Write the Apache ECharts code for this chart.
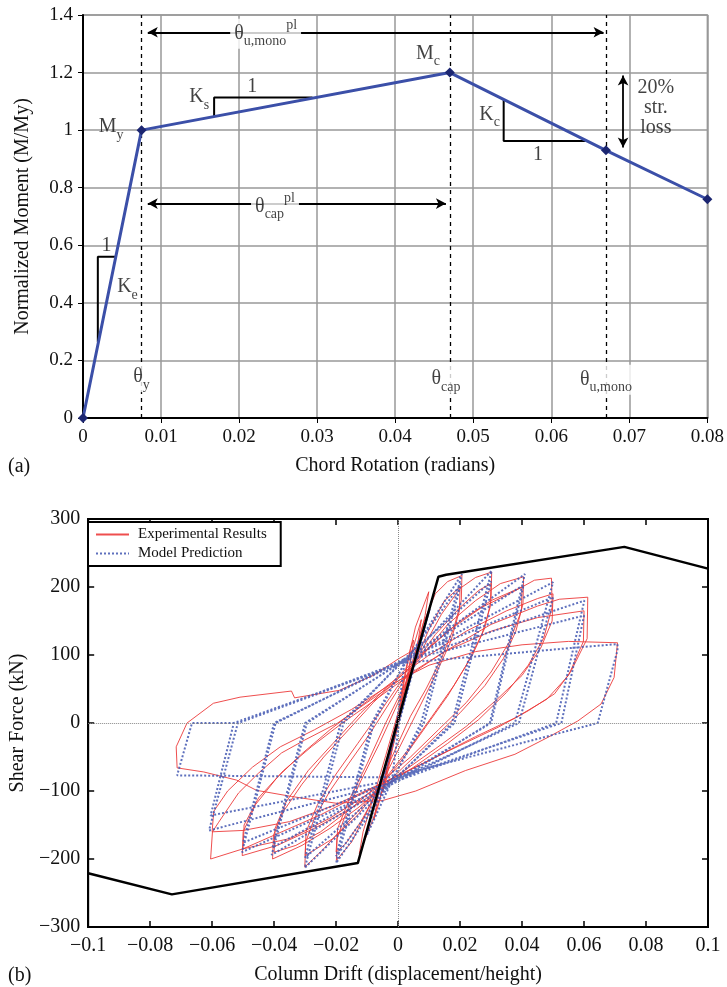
<!DOCTYPE html>
<html>
<head>
<meta charset="utf-8">
<script src="https://cdn.jsdelivr.net/npm/echarts@6/dist/echarts.min.js"></script>
<style>
  html, body { margin: 0; padding: 0; background: #fff; }
  #main { width: 727px; height: 987px; }
</style>
</head>
<body>
<div id="main"></div>
<script>
var F = 'Liberation Serif';

// ---- (a) backbone curve ----
var rotPts = [0, 0.0075, 0.047, 0.067, 0.08];
var momPts = [0, 1.0, 1.2, 0.93, 0.76];
var thetaMarks = [0.0075, 0.047, 0.067];          // theta_y, theta_cap, theta_u,mono
var keTri = [[0.0042, 0.56], [0.0019, 0.56], [0.0019, 0.264]];
var ksTri = [[0.0168, 1.047], [0.0168, 1.113], [0.0294, 1.113]];
var kcTri = [[0.0539, 1.107], [0.0539, 0.962], [0.0644, 0.962]];
var uMonoArrow = [[0.0083, 1.34], [0.0667, 1.34]];
var capArrow = [[0.0083, 0.745], [0.0465, 0.745]];
var lossArrow = [[0.0692, 1.19], [0.0692, 0.94]];

var noteTexts = ['M{s|y}', 'M{s|c}', 'K{s|e}', '1', 'K{s|s}', '1', 'K{s|c}', '1',
  '20%', 'str.', 'loss', 'θ{s|y}', 'θ{s|cap}', 'θ{s|u,mono}',
  'θ{s|u,mono}{p|pl}', 'θ{s|cap}{p|pl}'];
var notePos = [[0.0036, 1.011], [0.0442, 1.266], [0.0057, 0.455], [0.0030, 0.598],
  [0.0149, 1.115], [0.0217, 1.152], [0.0521, 1.055], [0.0583, 0.916],
  [0.0734, 1.148], [0.0734, 1.078], [0.0734, 1.007], [0.0075, 0.142],
  [0.0465, 0.136], [0.0670, 0.133], [0.0234, 1.335], [0.0246, 0.735]];

// ---- (b) hysteresis ----
var driftBB = [-0.1, -0.073, -0.013, 0.013, 0.0155, 0.073, 0.1];
var shearBB = [-221, -252, -206, 215, 218, 259, 227];

var expSmall = [[0,0],[0.002,62],[0.004,110],[0.005,122],[0.0035,75],[0.001,18],[-0.002,-42],[-0.004,-86],[-0.005,-102],[-0.0035,-64],[-0.001,-12],[0.002,48],[0.0045,105],[0.0075,152],[0.0064,118],[0.003,52],[0,-2],[-0.003,-57],[-0.006,-115],[-0.0078,-142],[-0.0063,-104],[-0.003,-46],[0,14],[0.0024,77],[0.0056,141],[0.0099,193],[0.0087,158],[0.006,104],[0.002,34],[-0.002,-36],[-0.005,-98],[-0.0082,-143],[-0.0125,-192],[-0.0113,-160],[-0.008,-110],[-0.004,-48],[0,15],[0.004,80],[0.008,145],[0.012,190]];
var exp02 = [[0.016,208],[0.0206,217],[0.0204,180],[0.018,140],[0.014,95],[0.009,50],[0.004,10],[0,-30],[-0.005,-80],[-0.01,-130],[-0.015,-175],[-0.0199,-202],[-0.0197,-170],[-0.017,-135],[-0.012,-85],[-0.006,-30],[0,30],[0.005,85],[0.01,138],[0.015,180],[0.020,200],[0.0198,165],[0.017,120],[0.012,70],[0.006,15],[0,-40],[-0.006,-95],[-0.012,-145],[-0.017,-178],[-0.020,-190],[-0.0195,-155],[-0.016,-115],[-0.01,-60],[-0.004,0],[0.002,55],[0.008,110],[0.014,160],[0.02,198],[0.025,214]];
var exp03 = [[0.0302,222],[0.0300,180],[0.028,140],[0.024,100],[0.018,55],[0.011,10],[0.004,-35],[-0.003,-75],[-0.01,-115],[-0.017,-150],[-0.024,-185],[-0.0301,-212],[-0.0298,-175],[-0.027,-140],[-0.022,-100],[-0.016,-60],[-0.009,-15],[-0.002,35],[0.005,85],[0.012,130],[0.02,170],[0.026,195],[0.030,205],[0.0297,170],[0.027,130],[0.022,85],[0.016,40],[0.009,-5],[0.002,-50],[-0.006,-95],[-0.013,-135],[-0.021,-170],[-0.030,-195],[-0.0297,-160],[-0.026,-120],[-0.02,-75],[-0.013,-30],[-0.006,15],[0,55],[0.008,100],[0.016,145],[0.025,180],[0.033,205]];
var exp04 = [[0.0405,215],[0.0403,175],[0.038,135],[0.034,95],[0.028,55],[0.02,15],[0.012,-20],[0.004,-55],[-0.004,-90],[-0.013,-125],[-0.022,-155],[-0.031,-180],[-0.0405,-200],[-0.0402,-165],[-0.037,-130],[-0.031,-90],[-0.024,-50],[-0.016,-10],[-0.008,30],[0,65],[0.01,110],[0.02,150],[0.03,180],[0.040,200],[0.0398,165],[0.036,120],[0.03,75],[0.022,30],[0.013,-10],[0.004,-50],[-0.005,-85],[-0.015,-125],[-0.025,-160],[-0.033,-180],[-0.040,-190],[-0.0397,-155],[-0.036,-115],[-0.029,-70],[-0.021,-30],[-0.012,15],[-0.003,55],[0.006,95],[0.016,135],[0.027,170],[0.038,195],[0.044,210]];
var exp05 = [[0.0495,213],[0.0497,170],[0.047,125],[0.042,85],[0.035,45],[0.026,5],[0.016,-30],[0.006,-62],[-0.004,-92],[-0.015,-125],[-0.027,-155],[-0.039,-180],[-0.0503,-195],[-0.0500,-160],[-0.046,-120],[-0.039,-80],[-0.031,-45],[-0.022,-10],[-0.012,25],[-0.002,60],[0.01,100],[0.022,135],[0.035,165],[0.045,183],[0.050,190],[0.0497,150],[0.046,110],[0.04,70],[0.032,35],[0.022,-5],[0.012,-38],[0.002,-70],[-0.01,-105],[-0.022,-140],[-0.035,-170],[-0.050,-185],[-0.0497,-150],[-0.045,-110],[-0.037,-70],[-0.028,-35],[-0.018,0],[-0.008,32],[0.002,65],[0.015,105],[0.03,145],[0.045,172],[0.052,182]];
var exp06 = [[0.0612,185],[0.061,124],[0.0559,77],[0.0505,43],[0.042,18],[0.0324,-6],[0.0163,-41],[0.0035,-70],[-0.01,-100],[-0.025,-135],[-0.04,-165],[-0.05,-185],[-0.0605,-200],[-0.0599,-160],[-0.0579,-146],[-0.0515,-103],[-0.0451,-74],[-0.0376,-44],[-0.0301,-25],[-0.0195,0],[-0.0088,34],[0.0008,64],[0.015,105],[0.03,135],[0.045,155],[0.060,165],[0.0598,120],[0.055,70],[0.048,35],[0.038,8],[0.025,-20],[0.01,-55],[-0.005,-88],[-0.02,-120],[-0.035,-145],[-0.05,-158],[-0.060,-160],[-0.0595,-130],[-0.055,-100],[-0.047,-65],[-0.038,-35],[-0.027,-10],[-0.015,20],[-0.003,55],[0.01,85],[0.025,105],[0.04,115],[0.055,120]];
var exp07 = [[0.0708,118],[0.0697,67],[0.0655,28],[0.058,3],[0.0484,-21],[0.0377,-46],[0.0217,-70],[0.0057,-100],[-0.005,-114],[-0.02,-118],[-0.0344,-108],[-0.0457,-99],[-0.0521,-84],[-0.0627,-72],[-0.0713,-66],[-0.0716,-35],[-0.0681,0],[-0.0596,29],[-0.051,38],[-0.0344,47],[-0.0334,37],[-0.019,48],[-0.008,70],[0.0,94],[0.006,110]];

var modSmall = [[0,0],[0.005,83],[0.0002,0],[-0.005,-84],[-0.0002,0],[0.005,83],[0.0102,168],[0.0003,0],[-0.002,-85],[-0.0101,-165],[-0.0004,0],[0.002,86]];
var mod02 = [[0.0206,219],[0.0074,0],[-0.002,-86],[-0.0200,-206],[-0.0078,0],[0.002,88],[0.0203,205],[0.0083,0],[-0.002,-84],[-0.0200,-196],[-0.0085,0],[0.002,87]];
var mod03 = [[0.0302,224],[0.0174,0],[-0.002,-88],[-0.0301,-213],[-0.0176,0],[0.001,90],[0.0300,208],[0.0182,0],[-0.002,-86],[-0.0300,-198],[-0.0185,0],[0.001,88]];
var mod04 = [[0.0409,219],[0.0296,0],[-0.002,-90],[-0.0408,-194],[-0.0294,0],[0.001,90],[0.0405,203],[0.030,0],[-0.002,-87],[-0.0405,-183],[-0.0300,0],[0.001,89]];
var mod05 = [[0.0500,207],[0.0377,0],[-0.002,-90],[-0.0504,-190],[-0.0395,0],[0.001,92],[0.0500,185],[0.0390,0],[-0.002,-86],[-0.0500,-176],[-0.0400,0],[0.001,90]];
var mod06 = [[0.0601,180],[0.0510,0],[-0.002,-88],[-0.0610,-158],[-0.0517,0],[0.001,90],[0.0600,158],[0.0527,0],[-0.002,-84],[-0.0605,-136],[-0.0530,0],[0.001,88]];
var mod07 = [[0.0600,112],[0.0708,116],[0.0708,107],[0.0644,0],[-0.002,-80],[-0.0713,-77],[-0.0665,0],[-0.0515,0],[0.001,88]];

var expAll = [].concat(expSmall, exp02, exp03, exp04, exp05, exp06, exp07);
var modAll = [].concat(modSmall, mod02, mod03, mod04, mod05, mod06, mod07);

function pairs(xs, ys) {
  return xs.map(function (x, i) { return [x, ys[i]]; });
}
function minus(s) { return s.replace('-', '\u2212'); }

var txt = { fontFamily: F, fontSize: 19, color: '#111' };
var nameTxt = { fontFamily: F, fontSize: 20, color: '#111' };

var notes = noteTexts.map(function (t, i) {
  var item = { value: notePos[i], label: { formatter: t } };
  if (t.charAt(0) === 'θ') {
    item.label.backgroundColor = '#fff';
    item.label.padding = [0, 4];
  }
  return item;
});

var chart = echarts.init(document.getElementById('main'));

var option = {
  animation: false,
  backgroundColor: '#fff',
  textStyle: { fontFamily: F },
  grid: [
    { left: 83, right: 19, top: 15, bottom: 569, show: true, borderColor: '#999', borderWidth: 1.5 },
    { left: 84, right: 19, top: 519, bottom: 60, show: true, borderColor: '#000', borderWidth: 2 }
  ],
  legend: {
    data: ['Experimental Results', 'Model Prediction'],
    orient: 'vertical',
    left: 88,
    top: 522,
    backgroundColor: '#fff',
    borderColor: '#000',
    borderWidth: 2,
    borderRadius: 0,
    padding: [5, 14, 5, 7],
    itemGap: 4,
    itemWidth: 33,
    itemHeight: 14,
    selectedMode: false,
    itemStyle: { opacity: 0 },
    textStyle: { fontFamily: F, fontSize: 15, color: '#111', padding: [0, 0, 0, 4] }
  },
  xAxis: [
    {
      gridIndex: 0, type: 'value', min: 0, max: 0.08, interval: 0.01,
      name: 'Chord Rotation (radians)', nameLocation: 'middle', nameGap: 38, nameTextStyle: nameTxt,
      axisLine: { lineStyle: { color: '#000', width: 2 } },
      axisTick: { length: 5, lineStyle: { color: '#000' } },
      axisLabel: Object.assign({ margin: 10, formatter: function (v) { return v === 0 ? '0' : v.toFixed(2); } }, txt),
      splitLine: { show: true, lineStyle: { color: '#999', width: 1.5 } }
    },
    {
      gridIndex: 1, type: 'value', min: -0.1, max: 0.1, interval: 0.02, position: 'bottom',
      name: 'Column Drift (displacement/height)', nameLocation: 'middle', nameGap: 38, nameTextStyle: nameTxt,
      axisLine: { onZero: false, lineStyle: { color: '#000', width: 2 } },
      axisTick: { inside: true, length: 6, lineStyle: { color: '#000', width: 1.5 } },
      axisLabel: Object.assign({ margin: 9, formatter: function (v) { return minus(String(+v.toFixed(2))); } }, txt, { fontSize: 20 }),
      splitLine: { show: false }
    },
    {
      gridIndex: 1, type: 'value', min: -0.1, max: 0.1, interval: 0.02, position: 'top',
      axisLine: { onZero: false, lineStyle: { color: '#000', width: 2 } },
      axisTick: { inside: true, length: 6, lineStyle: { color: '#000', width: 1.5 } },
      axisLabel: { show: false },
      splitLine: { show: false }
    }
  ],
  yAxis: [
    {
      gridIndex: 0, type: 'value', min: 0, max: 1.4, interval: 0.2,
      name: 'Normalized Moment (M/My)', nameLocation: 'middle', nameGap: 50, nameTextStyle: nameTxt,
      axisLine: { show: true, lineStyle: { color: '#000', width: 2 } },
      axisTick: { show: true, length: 5, lineStyle: { color: '#000' } },
      axisLabel: Object.assign({ margin: 10, formatter: function (v) { return String(+v.toFixed(1)); } }, txt),
      splitLine: { show: true, lineStyle: { color: '#999', width: 1.5 } }
    },
    {
      gridIndex: 1, type: 'value', min: -300, max: 300, interval: 100, position: 'left',
      name: 'Shear Force (kN)', nameLocation: 'middle', nameGap: 52, nameTextStyle: nameTxt,
      axisLine: { show: true, onZero: false, lineStyle: { color: '#000', width: 2 } },
      axisTick: { show: true, inside: true, length: 6, lineStyle: { color: '#000', width: 1.5 } },
      axisLabel: Object.assign({ margin: 8, formatter: function (v) { return minus(String(v)); } }, txt, { fontSize: 20 }),
      splitLine: { show: false }
    },
    {
      gridIndex: 1, type: 'value', min: -300, max: 300, interval: 100, position: 'right',
      axisLine: { show: true, onZero: false, lineStyle: { color: '#000', width: 2 } },
      axisTick: { show: true, inside: true, length: 6, lineStyle: { color: '#000', width: 1.5 } },
      axisLabel: { show: false },
      splitLine: { show: false }
    }
  ],
  graphic: [
    { type: 'text', left: 8, top: 457, style: { text: '(a)', font: '20px "Liberation Serif"', fill: '#111' } },
    { type: 'text', left: 8, top: 966, style: { text: '(b)', font: '20px "Liberation Serif"', fill: '#111' } }
  ],
  series: [
    // dashed theta lines
    {
      type: 'line', xAxisIndex: 0, yAxisIndex: 0, data: [[0, 0]], symbol: 'none',
      lineStyle: { opacity: 0 }, silent: true,
      markLine: {
        silent: true, symbol: 'none', label: { show: false },
        lineStyle: { color: '#000', type: [4, 4], width: 1.3 },
        data: thetaMarks.map(function (t) { return [{ coord: [t, 0] }, { coord: [t, 1.4] }]; })
      }
    },
    // arrows
    {
      type: 'line', xAxisIndex: 0, yAxisIndex: 0, data: [[0, 0]], symbol: 'none',
      lineStyle: { opacity: 0 }, silent: true,
      markLine: {
        silent: true, symbol: ['arrow', 'arrow'], symbolSize: [8, 10], label: { show: false },
        lineStyle: { color: '#000', type: 'solid', width: 1.8 },
        data: [
          [{ coord: uMonoArrow[0] }, { coord: uMonoArrow[1] }],
          [{ coord: capArrow[0] }, { coord: capArrow[1] }],
          [{ coord: lossArrow[0] }, { coord: lossArrow[1] }]
        ]
      }
    },
    { type: 'line', xAxisIndex: 0, yAxisIndex: 0, data: keTri, symbol: 'none', silent: true, lineStyle: { color: '#000', width: 2 } },
    { type: 'line', xAxisIndex: 0, yAxisIndex: 0, data: ksTri, symbol: 'none', silent: true, lineStyle: { color: '#000', width: 2 } },
    { type: 'line', xAxisIndex: 0, yAxisIndex: 0, data: kcTri, symbol: 'none', silent: true, lineStyle: { color: '#000', width: 2 } },
    {
      type: 'line', xAxisIndex: 0, yAxisIndex: 0, data: pairs(rotPts, momPts), z: 5,
      symbol: 'diamond', symbolSize: 10, silent: true,
      lineStyle: { color: '#3b4fa8', width: 3 },
      itemStyle: { color: '#1c2671' }
    },
    {
      type: 'scatter', xAxisIndex: 0, yAxisIndex: 0, data: notes, symbolSize: 0, z: 10, silent: true,
      label: {
        show: true, position: 'inside', color: '#111', fontFamily: F, fontSize: 20, lineHeight: 30,
        rich: {
          s: { fontFamily: F, fontSize: 14, lineHeight: 20, verticalAlign: 'bottom', color: '#111' },
          p: { fontFamily: F, fontSize: 14, lineHeight: 14, verticalAlign: 'top', color: '#111' }
        }
      }
    },
    // zero lines of (b)
    {
      type: 'line', xAxisIndex: 1, yAxisIndex: 1, data: [[0, 0]], symbol: 'none', z: 1,
      lineStyle: { opacity: 0 }, silent: true,
      markLine: {
        silent: true, symbol: 'none', label: { show: false },
        lineStyle: { color: '#888', type: 'dotted', width: 1 },
        data: [{ xAxis: 0 }, { yAxis: 0 }]
      }
    },
    {
      name: 'Experimental Results', type: 'line', xAxisIndex: 1, yAxisIndex: 1, data: expAll,
      symbol: 'none', z: 2, silent: true,
      lineStyle: { color: '#ec3b3b', width: 1, opacity: 0.9 },
      itemStyle: { color: '#ec3b3b', opacity: 0 }
    },
    {
      name: 'Model Prediction', type: 'line', xAxisIndex: 1, yAxisIndex: 1, data: modAll,
      symbol: 'none', z: 3, silent: true,
      lineStyle: { color: '#4257b2', width: 2, type: [2, 2], opacity: 0.85 },
      itemStyle: { color: '#4257b2', opacity: 0 }
    },
    {
      type: 'line', xAxisIndex: 1, yAxisIndex: 1, data: pairs(driftBB, shearBB),
      symbol: 'none', z: 4, silent: true,
      lineStyle: { color: '#000', width: 2.5 }
    }
  ]
};

chart.setOption(option);
</script>
</body>
</html>
